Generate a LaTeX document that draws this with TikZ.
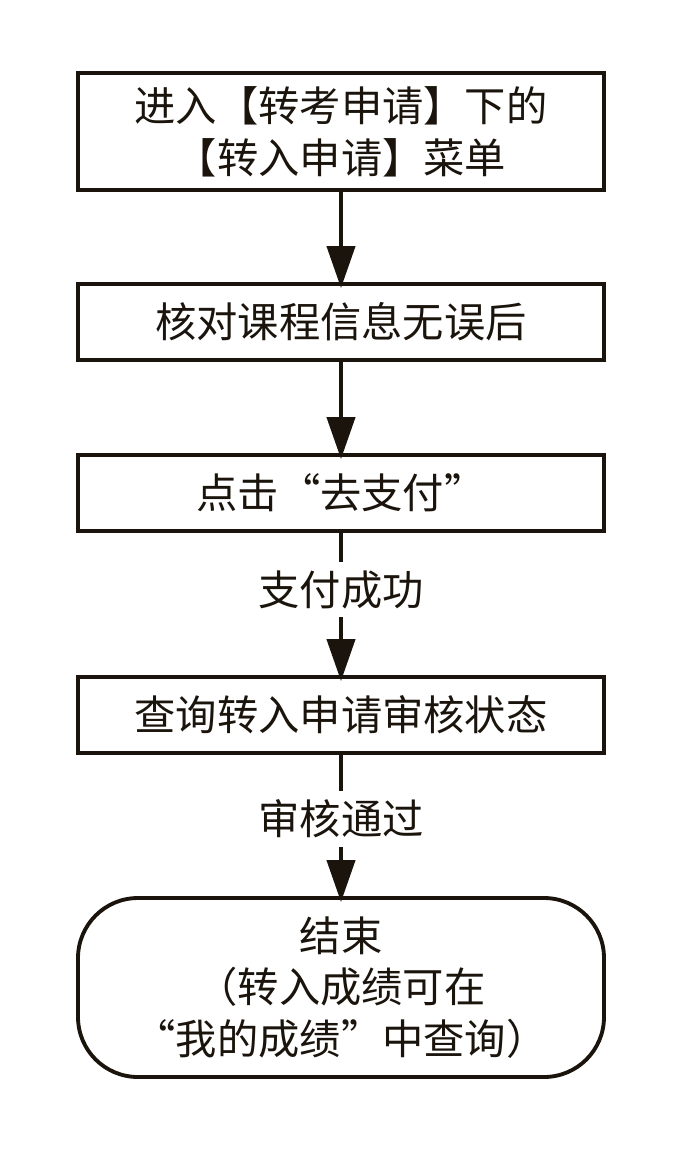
\documentclass[tikz,border=0pt]{standalone}
\usepackage{fontspec}
\setmainfont{Noto Sans CJK SC}
\usetikzlibrary{arrows.meta}

\definecolor{INK}{HTML}{1A140C}

\tikzset{
  stepbox/.style={draw=INK, line width=2.2pt, minimum width=10.52cm, minimum height=1.52cm, inner sep=0pt, align=center, text=INK},
  endbox/.style={draw=INK, line width=2.2pt, rounded corners=1.2cm, minimum width=10.52cm, minimum height=3.58cm, inner sep=0pt, align=center, text=INK},
  steplabel/.style={minimum height=1.1cm, inner sep=0pt, text=INK},
  flow/.style={INK, line width=2.4pt, -{Triangle[length=0.84cm, width=0.56cm]}, shorten >=-0.12cm},
  plain/.style={INK, line width=2.4pt}
}

\begin{document}
\begin{tikzpicture}[font=\fontsize{23.5}{29.5}\selectfont]
            \useasboundingbox (0,0) rectangle (13.62,-23.04);

            \node[stepbox, minimum height=2.34cm] (enter) at (6.82,-2.63) {进入【转考申请】下的\\【转入申请】菜单};
            \node[stepbox] (check) at (6.82,-6.44) {核对课程信息无误后};
            \node[stepbox] (pay) at (6.82,-9.86) {点击“去支付”};
            \node[steplabel] (paid) at (6.82,-11.79) {支付成功};
            \node[stepbox] (query) at (6.82,-14.30) {查询转入申请审核状态};
            \node[steplabel] (passed) at (6.82,-16.38) {审核通过};
            \node[endbox] (finish) at (6.82,-19.75) {结束\\（转入成绩可在\\“我的成绩”中查询）};

            \draw[flow] (enter) -- (check);
            \draw[flow] (check) -- (pay);
            \draw[plain] (pay) -- (paid);
            \draw[flow] (paid) -- (query);
            \draw[plain] (query) -- (passed);
            \draw[flow] (passed) -- (finish);
        \end{tikzpicture}
\end{document}
